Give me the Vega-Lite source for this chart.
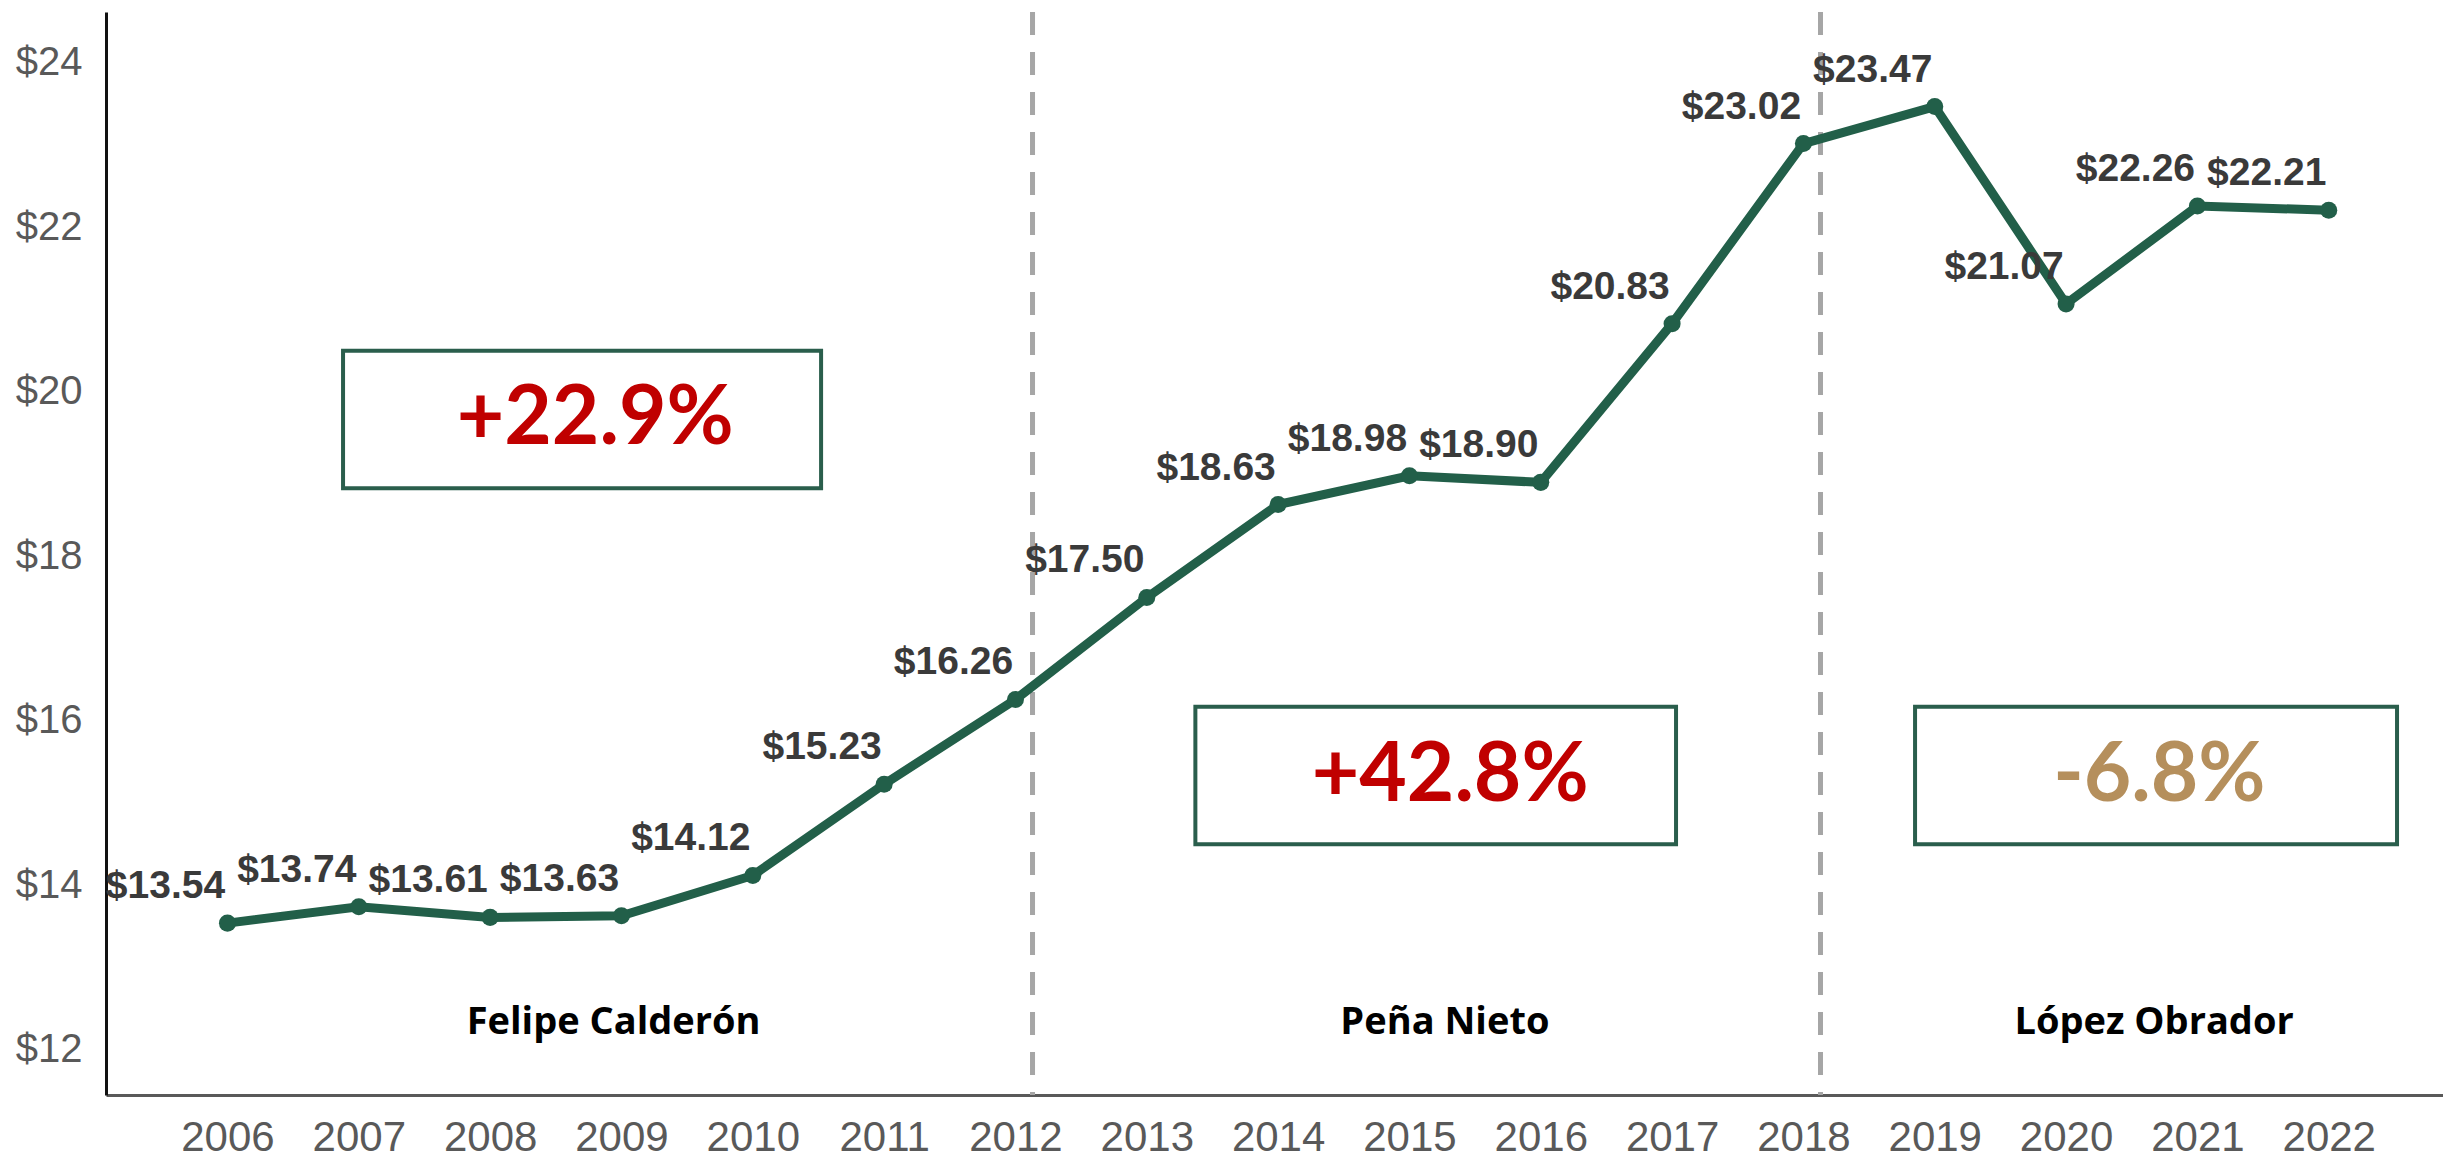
{
  "$schema": "https://vega.github.io/schema/vega-lite/v6.json",
  "width": 2337,
  "height": 1083,
  "autosize": {"type": "none"},
  "padding": {"left": 106, "top": 12, "right": 0, "bottom": 63},
  "background": "#ffffff",
  "config": {"view": {"stroke": null}},
  "datasets": {
    "series": [
      {"year": 2006, "value": 13.54, "label": "$13.54"},
      {"year": 2007, "value": 13.74, "label": "$13.74"},
      {"year": 2008, "value": 13.61, "label": "$13.61"},
      {"year": 2009, "value": 13.63, "label": "$13.63"},
      {"year": 2010, "value": 14.12, "label": "$14.12"},
      {"year": 2011, "value": 15.23, "label": "$15.23"},
      {"year": 2012, "value": 16.26, "label": "$16.26"},
      {"year": 2013, "value": 17.50, "label": "$17.50"},
      {"year": 2014, "value": 18.63, "label": "$18.63"},
      {"year": 2015, "value": 18.98, "label": "$18.98"},
      {"year": 2016, "value": 18.90, "label": "$18.90"},
      {"year": 2017, "value": 20.83, "label": "$20.83"},
      {"year": 2018, "value": 23.02, "label": "$23.02"},
      {"year": 2019, "value": 23.47, "label": "$23.47"},
      {"year": 2020, "value": 21.07, "label": "$21.07"},
      {"year": 2021, "value": 22.26, "label": "$22.26"},
      {"year": 2022, "value": 22.21, "label": "$22.21"}
    ],
    "boxes": [
      {"x1": 2006.88, "x2": 2010.52, "y1": 18.83, "y2": 20.50, "xc": 2008.80, "yc": 19.665, "text": "+22.9%", "kind": "up"},
      {"x1": 2013.37, "x2": 2017.03, "y1": 14.50, "y2": 16.17, "xc": 2015.31, "yc": 15.335, "text": "+42.8%", "kind": "up"},
      {"x1": 2018.85, "x2": 2022.52, "y1": 14.50, "y2": 16.17, "xc": 2020.71, "yc": 15.335, "text": "-6.8%", "kind": "down"}
    ],
    "periods": [
      {"x": 2008.94, "y": 12.32, "name": "Felipe Calderón"},
      {"x": 2015.27, "y": 12.32, "name": "Peña Nieto"},
      {"x": 2020.67, "y": 12.32, "name": "López Obrador"}
    ],
    "dividers": [
      {"x": 2012.13},
      {"x": 2018.13}
    ]
  },
  "layer": [
    {
      "data": {"name": "dividers"},
      "mark": {"type": "rule", "color": "#A6A6A6", "strokeWidth": 5, "strokeDash": [23, 17]},
      "encoding": {
        "x": {"field": "x", "type": "quantitative", "scale": {"domain": [2005.075, 2022.87], "nice": false, "zero": false},
          "axis": {"values": [2006,2007,2008,2009,2010,2011,2012,2013,2014,2015,2016,2017,2018,2019,2020,2021,2022], "format": "d", "title": null, "grid": false, "ticks": false, "labelFontSize": 42, "labelFont": "Liberation Sans", "labelColor": "#595959", "labelPadding": 22, "domainColor": "#595959", "domainWidth": 3, "labelFlush": false}}
      }
    },
    {
      "data": {"name": "boxes"},
      "mark": {"type": "rect", "fill": "#ffffff", "stroke": "#2A5E4C", "strokeWidth": 4},
      "encoding": {
        "x": {"field": "x1", "type": "quantitative"},
        "x2": {"field": "x2"},
        "y": {"field": "y1", "type": "quantitative", "scale": {"domain": [11.45, 24.62], "nice": false, "zero": false},
          "axis": {"values": [12,14,16,18,20,22,24], "labelExpr": "'$' + datum.value", "title": null, "grid": false, "ticks": false, "labelFontSize": 40, "labelFont": "Liberation Sans", "labelColor": "#595959", "labelPadding": 24, "domainColor": "#111111", "domainWidth": 3}},
        "y2": {"field": "y2"}
      }
    },
    {
      "data": {"name": "boxes"},
      "mark": {"type": "text", "font": "Lato", "fontWeight": "bold", "fontSize": 82, "align": "center", "baseline": "middle"},
      "encoding": {
        "x": {"field": "xc", "type": "quantitative"},
        "y": {"field": "yc", "type": "quantitative"},
        "text": {"field": "text"},
        "color": {"field": "kind", "type": "nominal", "scale": {"domain": ["up", "down"], "range": ["#C00000", "#B58F5C"]}, "legend": null}
      }
    },
    {
      "data": {"name": "series"},
      "mark": {"type": "line", "color": "#225F49", "strokeWidth": 9, "point": {"filled": true, "size": 290, "color": "#225F49"}},
      "encoding": {
        "x": {"field": "year", "type": "quantitative"},
        "y": {"field": "value", "type": "quantitative"}
      }
    },
    {
      "data": {"name": "series"},
      "mark": {"type": "text", "font": "Liberation Sans", "fontWeight": "bold", "fontSize": 39, "color": "#3A3A3A", "align": "center", "baseline": "middle", "dx": -62, "dy": -37},
      "encoding": {
        "x": {"field": "year", "type": "quantitative"},
        "y": {"field": "value", "type": "quantitative"},
        "text": {"field": "label"}
      }
    },
    {
      "data": {"name": "periods"},
      "mark": {"type": "text", "font": "Open Sans", "fontWeight": "bold", "fontSize": 38, "color": "#000000", "align": "center", "baseline": "middle"},
      "encoding": {
        "x": {"field": "x", "type": "quantitative"},
        "y": {"field": "y", "type": "quantitative"},
        "text": {"field": "name"}
      }
    }
  ]
}
